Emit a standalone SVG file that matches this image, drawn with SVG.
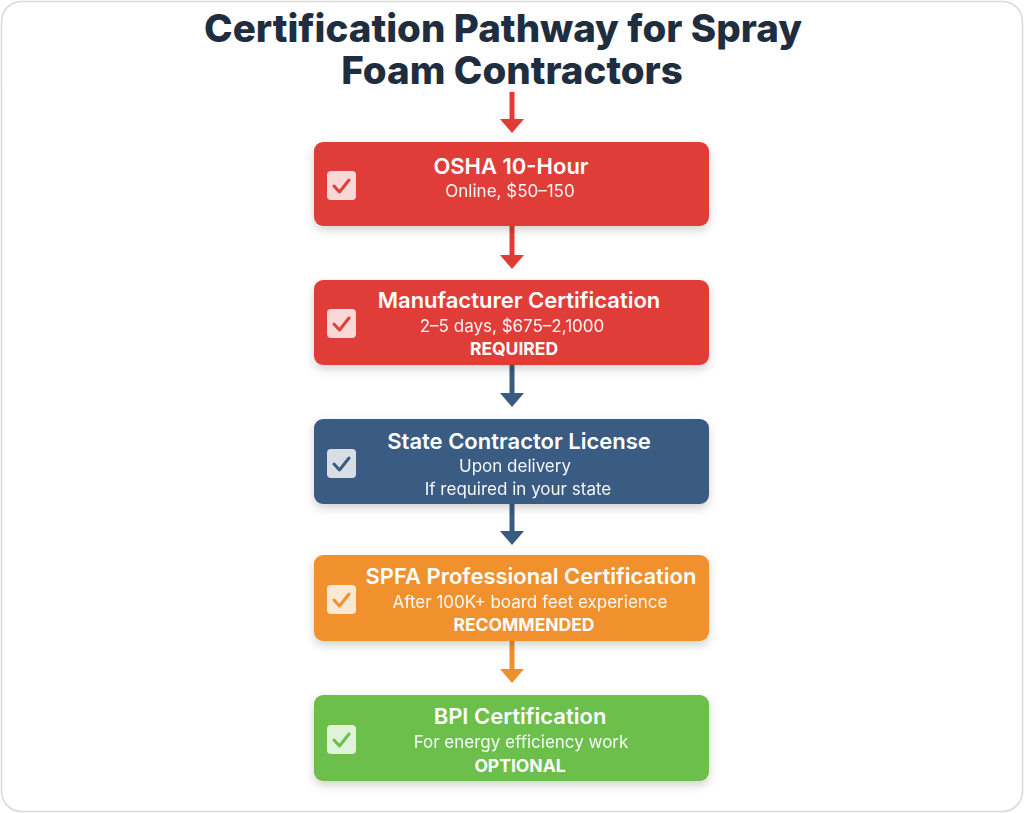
<svg xmlns="http://www.w3.org/2000/svg" width="1024" height="813" viewBox="0 0 1024 813">
<defs>
<filter id="sh" x="-10%" y="-20%" width="120%" height="150%">
<feDropShadow dx="0" dy="4" stdDeviation="5" flood-color="#000" flood-opacity="0.18"/>
</filter>
<style>
.ttl{font-family:Inter,"Liberation Sans",sans-serif;font-weight:800;font-size:38.5px;fill:#1f2e3f;text-anchor:middle}
.nt{font-family:Inter,"Liberation Sans",sans-serif;font-weight:600;font-size:22px;fill:#fff;text-anchor:middle}
.ns{font-family:Inter,"Liberation Sans",sans-serif;font-weight:400;font-size:17px;fill:#fff;text-anchor:middle;opacity:0.95}
.nb{font-family:Inter,"Liberation Sans",sans-serif;font-weight:700;font-size:17.5px;fill:#fff;text-anchor:middle}
.cb{fill:#fff;opacity:0.8}
.ck{fill:none;stroke-width:3;stroke-linecap:round;stroke-linejoin:round}
.ln{stroke-width:5}
</style>
</defs>
<rect x="0" y="0" width="1024" height="813" fill="#fff"/>
<rect x="1.5" y="1.5" width="1021" height="810" rx="20" fill="#fff" stroke="#d9d9d9" stroke-width="1.5"/>
<g id="title">
<text class="ttl" x="503" y="42">Certification Pathway for Spray</text>
<text class="ttl" x="512" y="84">Foam Contractors</text>
</g>
<g id="connectors">
<line class="ln" x1="512" y1="92" x2="512" y2="120" stroke="#e03c34"/><path d="M500,119 L524,119 L512,133 Z" fill="#e03c34"/>
<line class="ln" x1="512" y1="226" x2="512" y2="256" stroke="#e03c34"/><path d="M500,255 L524,255 L512,269 Z" fill="#e03c34"/>
<line class="ln" x1="512" y1="365" x2="512" y2="394" stroke="#3a5a80"/><path d="M500,393 L524,393 L512,407 Z" fill="#3a5a80"/>
<line class="ln" x1="512" y1="504" x2="512" y2="532" stroke="#3a5a80"/><path d="M500,531 L524,531 L512,545 Z" fill="#3a5a80"/>
<line class="ln" x1="512" y1="641" x2="512" y2="670" stroke="#ef8f2c"/><path d="M500,669 L524,669 L512,683 Z" fill="#ef8f2c"/>
</g>
<g id="osha">
<rect x="314" y="142" width="395" height="84" rx="9" fill="#e03e37" filter="url(#sh)"/>
<rect class="cb" x="327" y="171" width="29" height="29" rx="4"/>
<path class="ck" d="M334,186 L339.5,192 L349,180" stroke="#e03e37"/>
<text class="nt" x="511" y="174">OSHA 10-Hour</text>
<text class="ns" x="510" y="197">Online, $50–150</text>
</g>
<g id="manufacturer">
<rect x="314" y="280" width="395" height="85" rx="9" fill="#e03e37" filter="url(#sh)"/>
<rect class="cb" x="327" y="309" width="29" height="29" rx="4"/>
<path class="ck" d="M334,324 L339.5,330 L349,318" stroke="#e03e37"/>
<text class="nt" x="519" y="308">Manufacturer Certification</text>
<text class="ns" x="512" y="332">2–5 days, $675–2,1000</text>
<text class="nb" x="514" y="355">REQUIRED</text>
</g>
<g id="state">
<rect x="314" y="419" width="395" height="85" rx="9" fill="#3b5b82" filter="url(#sh)"/>
<rect class="cb" x="327" y="449" width="29" height="29" rx="4"/>
<path class="ck" d="M334,464 L339.5,470 L349,458" stroke="#3b5b82"/>
<text class="nt" x="519" y="449">State Contractor License</text>
<text class="ns" x="515" y="472">Upon delivery</text>
<text class="ns" x="518" y="495">If required in your state</text>
</g>
<g id="spfa">
<rect x="314" y="555" width="395" height="86" rx="9" fill="#f0912f" filter="url(#sh)"/>
<rect class="cb" x="327" y="585" width="29" height="29" rx="4"/>
<path class="ck" d="M334,600 L339.5,606 L349,594" stroke="#f0912f"/>
<text class="nt" x="531" y="584">SPFA Professional Certification</text>
<text class="ns" x="530" y="608">After 100K+ board feet experience</text>
<text class="nb" x="524" y="631">RECOMMENDED</text>
</g>
<g id="bpi">
<rect x="314" y="695" width="395" height="86" rx="9" fill="#6cbf4b" filter="url(#sh)"/>
<rect class="cb" x="327" y="725" width="29" height="29" rx="4"/>
<path class="ck" d="M334,740 L339.5,746 L349,734" stroke="#6cbf4b"/>
<text class="nt" x="520" y="724">BPI Certification</text>
<text class="ns" x="521" y="748">For energy efficiency work</text>
<text class="nb" x="520" y="772">OPTIONAL</text>
</g>
</svg>
